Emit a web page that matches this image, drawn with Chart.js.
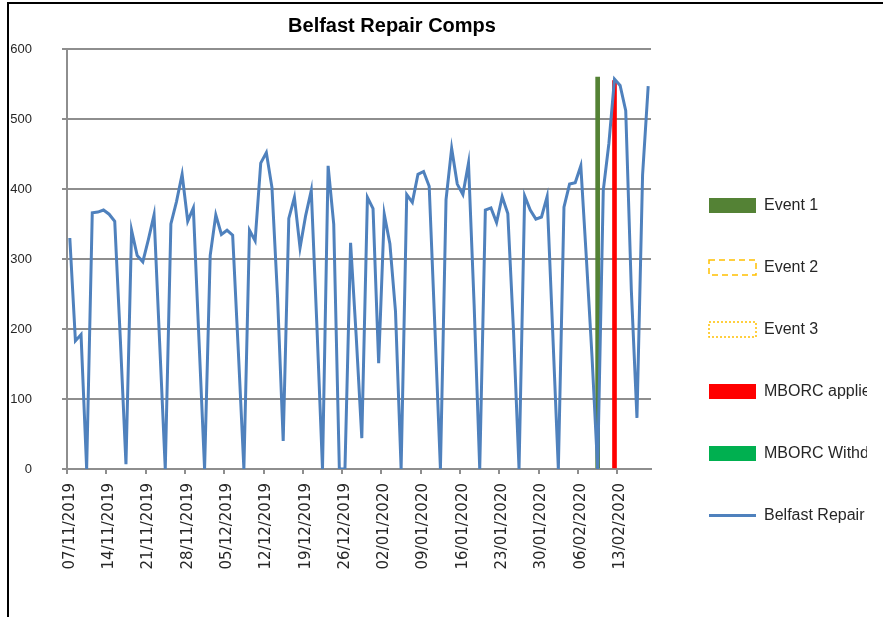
<!DOCTYPE html>
<html>
<head>
<meta charset="utf-8">
<script src="https://cdn.jsdelivr.net/npm/chart.js@4.4.1/dist/chart.umd.min.js"></script>
<style>
  html, body { margin: 0; padding: 0; background: #fff; overflow: hidden; }
  #frame {
    position: absolute; left: 7px; top: 2px;
    width: 874px; height: 615px;
    border-left: 2px solid #000; border-top: 2px solid #000;
    background: #fff;
  }
  #clip { width: 858px; height: 615px; overflow: hidden; }
</style>
</head>
<body>
<div id="frame"><div id="clip"><canvas id="canvas" width="858" height="613"></canvas></div></div>
<script>
// daily values, 07/11/2019 .. 18/02/2020
var repairComps = [
    330, 183, 192, 0, 366, 367, 370, 364, 354, 185,
    7, 341, 305, 296, 328, 363, 180, 0, 350, 382,
    421, 354, 373, 185, 0, 305, 363, 335, 341, 334,
    170, 0, 341, 326, 437, 452, 402, 245, 40, 358,
    388, 316, 362, 398, 205, 0, 433, 350, 0, 0,
    323, 190, 44, 388, 372, 151, 364, 322, 225, 0,
    392, 381, 421, 425, 404, 205, 0, 385, 458, 407,
    392, 437, 235, 0, 370, 373, 352, 389, 365, 200,
    0, 390, 370, 357, 360, 389, 195, 0, 374, 407,
    409, 433, 300, 160, 0, 398, 465, 557, 548, 512,
    255, 73, 420, 547
];
var firstDay = [2019, 10, 7]; // 07/11/2019
var yTicks = [0, 100, 200, 300, 400, 500, 600];

var event1Date = '09/02/2020';
var event1Height = 560;
var mborcAppliedDate = '12/02/2020';
var mborcAppliedHeight = 555;

var pad2 = function(n) {
    return (n < 10 ? '0' : '') + n;
};
var labels = repairComps.map(function(v, i) {
    var d = new Date(Date.UTC(firstDay[0], firstDay[1], firstDay[2] + i));
    return pad2(d.getUTCDate()) + '/' + pad2(d.getUTCMonth() + 1) + '/' + d.getUTCFullYear();
});
var markAt = function(date, height) {
    return labels.map(function(l) { return l === date ? height : null; });
};

var gridColor = '#8E8E8E';
var textColor = '#262626';

var config = {
    type: 'bar',
    data: {
        labels: labels,
        datasets: [{
            label: 'Event 1',
            data: markAt(event1Date, event1Height),
            backgroundColor: '#548235',
            borderWidth: 0,
            barThickness: 4,
            grouped: false,
            pointStyle: 'rect',
            order: 1
        }, {
            label: 'Event 2',
            data: [],
            backgroundColor: '#FFFFFF',
            borderColor: '#FFC000',
            borderWidth: 1.5,
            legendDash: [6, 4],
            grouped: false,
            pointStyle: 'rect',
            order: 1
        }, {
            label: 'Event 3',
            data: [],
            backgroundColor: '#FFFFFF',
            borderColor: '#FFC000',
            borderWidth: 1.5,
            legendDash: [2, 2],
            grouped: false,
            pointStyle: 'rect',
            order: 1
        }, {
            label: 'MBORC applied',
            data: markAt(mborcAppliedDate, mborcAppliedHeight),
            backgroundColor: '#FF0000',
            borderWidth: 0,
            barThickness: 4,
            grouped: false,
            pointStyle: 'rect',
            order: 1
        }, {
            label: 'MBORC Withdrawn',
            data: [],
            backgroundColor: '#00B050',
            borderWidth: 0,
            grouped: false,
            pointStyle: 'rect',
            order: 1
        }, {
            type: 'line',
            label: 'Belfast Repair Comps',
            data: repairComps,
            borderColor: '#4F81BD',
            backgroundColor: '#4F81BD',
            borderWidth: 3,
            pointRadius: 0,
            pointStyle: 'line',
            tension: 0,
            fill: false,
            order: 0
        }]
    },
    options: {
        responsive: false,
        animation: false,
        devicePixelRatio: 1,
        layout: {
            // negative left padding keeps the title centred where the original had it
            padding: { left: -92, right: 0, top: 0, bottom: 47.5 }
        },
        plugins: {
            title: {
                display: true,
                text: 'Belfast Repair Comps',
                color: '#000',
                font: { family: 'Liberation Sans', size: 20, weight: 'bold' },
                padding: { top: 10, bottom: 11 }
            },
            legend: {
                position: 'right',
                align: 'end',
                maxWidth: 204,
                labels: {
                    usePointStyle: true,
                    pointStyleWidth: 47,
                    boxWidth: 47,
                    boxHeight: 15,
                    padding: 46,
                    color: textColor,
                    font: { family: 'Liberation Sans', size: 16 },
                    sort: function(a, b) { return a.datasetIndex - b.datasetIndex; },
                    generateLabels: function(chart) {
                        var items = Chart.defaults.plugins.legend.labels.generateLabels(chart);
                        items.forEach(function(it) {
                            var ds = chart.data.datasets[it.datasetIndex];
                            if (ds.legendDash) it.lineDash = ds.legendDash;
                        });
                        return items;
                    }
                }
            },
            tooltip: { enabled: false }
        },
        scales: {
            x: {
                type: 'category',
                offset: true,
                grid: {
                    offset: true,
                    drawOnChartArea: false,
                    drawTicks: true,
                    tickLength: 5,
                    lineWidth: 2,
                    color: function(ctx) { return ctx.index % 7 === 0 ? gridColor : 'rgba(0,0,0,0)'; }
                },
                border: { color: gridColor, width: 2 },
                ticks: {
                    autoSkip: false,
                    maxRotation: 90,
                    minRotation: 90,
                    padding: 9,
                    color: textColor,
                    font: { family: 'DejaVu Sans', size: 15 },
                    callback: function(v, i) { return i % 7 === 0 ? labels[i] : ''; }
                },
                afterFit: function(s) { s.height = 100.5; }
            },
            y: {
                min: yTicks[0],
                max: yTicks[yTicks.length - 1],
                grid: { color: gridColor, lineWidth: 2, tickLength: 5 },
                border: { color: gridColor, width: 2 },
                ticks: {
                    stepSize: yTicks[1] - yTicks[0],
                    padding: 30,
                    color: textColor,
                    font: { family: 'Liberation Sans', size: 13 }
                },
                afterFit: function(s) { s.width = 150; }
            },
            gap: {
                position: 'right',
                display: true,
                grid: { display: false },
                border: { display: false },
                ticks: { display: false },
                afterFit: function(s) { s.width = 12; }
            }
        }
    }
};

window.onload = function() {
    window.myChart = new Chart(document.getElementById('canvas'), config);
};
</script>
</body>
</html>
